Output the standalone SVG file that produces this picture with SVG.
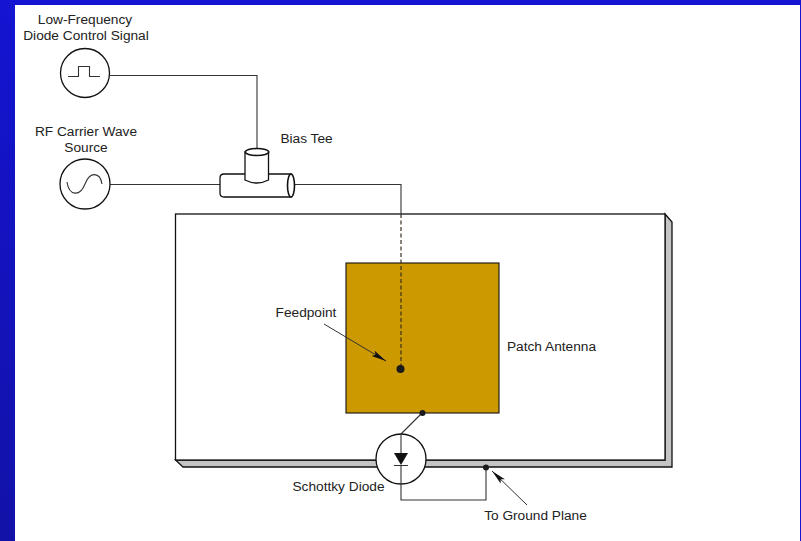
<svg xmlns="http://www.w3.org/2000/svg" width="801" height="541" viewBox="0 0 801 541">
<defs>
<linearGradient id="bl" x1="0" y1="0" x2="0" y2="1"><stop offset="0" stop-color="#1414d2"/><stop offset="1" stop-color="#1212a8"/></linearGradient>
<marker id="ah" markerUnits="userSpaceOnUse" markerWidth="16" markerHeight="8" refX="15" refY="4" orient="auto"><path d="M0 1L15 4L0 7L3 4Z" fill="#111"/></marker>
</defs>
<style>
.l{fill:none;stroke:#333;stroke-width:1.1}
.s{fill:#fff;stroke:#111;stroke-width:1.3}
.g{fill:#c4c4c4;stroke:#111;stroke-width:1.3}
.d{fill:#1a1a1a}
text{font-family:"Liberation Sans",Arial,sans-serif;font-size:13.7px;fill:#222;text-anchor:middle}
</style>
<rect width="801" height="541" fill="#fff"/>
<g id="frame">
<rect x="0" y="0" width="15" height="541" fill="url(#bl)"/>
<rect x="0" y="0" width="801" height="5" fill="#1414d2"/>
<rect x="800" y="0" width="1" height="541" fill="#1414d2"/>
</g>
<g id="ground-board">
<path class="g" d="M665 214L672 222V467H183L175.500 460H665Z"/>
<rect class="s" x="175.500" y="214" width="489.500" height="246"/>
</g>
<g id="patch-antenna">
<rect x="346" y="263" width="153" height="150" fill="#cc9900" stroke="#111" stroke-width="1.1"/>
<text x="551.500" y="351">Patch Antenna</text>
</g>
<g id="connectors">
<path class="l" d="M110 75.500H257V150"/>
<path class="l" d="M110 184.500H220"/>
<path class="l" d="M294 184.500H401V214"/>
<path d="M401 214V366" fill="none" stroke="#3a3020" stroke-width="1.2" stroke-dasharray="4 2.500"/>
<path class="l" d="M422 413L401 434"/>
<path class="l" d="M324 324L386 361" marker-end="url(#ah)" style="stroke-width:1"/>
<path class="l" d="M527 505L492 471" marker-end="url(#ah)" style="stroke-width:1"/>
</g>
<g id="feedpoint">
<circle class="d" cx="400.500" cy="369" r="4"/>
<text x="306" y="317">Feedpoint</text>
</g>
<g id="control-signal">
<text x="85" y="24">Low-Frequency</text>
<text x="86" y="40">Diode Control Signal</text>
<circle class="s" cx="85" cy="73" r="24.500"/>
<path class="l" d="M68 76.500H78.500V66.500H89.500V76.500H100"/>
</g>
<g id="rf-source">
<text x="86" y="136">RF Carrier Wave</text>
<text x="86" y="152">Source</text>
<circle class="s" cx="85" cy="184" r="25"/>
<path class="l" d="M67 182C69 196 80 197 85 184C90 171 100 172 102 184"/>
</g>
<g id="bias-tee">
<path class="s" d="M224 174H291V197H224Q220 197 220 193V178Q220 174 224 174Z"/>
<ellipse class="s" cx="291" cy="185.500" rx="3.500" ry="11.500" style="stroke-width:1.600"/>
<path class="s" d="M245 152V180Q257 186 268.500 180V152Z"/>
<ellipse class="s" cx="257" cy="152" rx="11.700" ry="3.500" style="stroke-width:1.600"/>
<text x="306.500" y="143">Bias Tee</text>
</g>
<g id="schottky-diode">
<circle class="s" cx="401" cy="459" r="25"/>
<path class="l" d="M401 434V453"/>
<path d="M394 453H408L401 465Z" fill="#111"/>
<path class="l" d="M394 465.500H408M401 465V500H486V467"/>
<text x="338.500" y="491">Schottky Diode</text>
</g>
<g id="diode-anode"><circle class="d" cx="422.500" cy="413" r="3"/></g>
<g id="ground-point">
<circle class="d" cx="486" cy="467.500" r="3"/>
<text x="535.500" y="520">To Ground Plane</text>
</g>
</svg>
